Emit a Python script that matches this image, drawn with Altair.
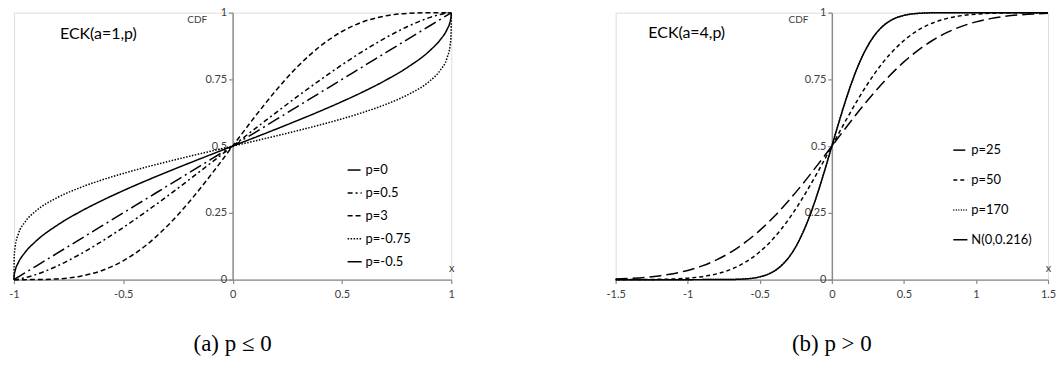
import altair as alt
import pandas as pd

# ---------------- left panel: ECK(a=1,p) ----------------
x_left = [-1, -0.999, -0.995, -0.98, -0.95, -0.9, -0.8, -0.7, -0.6, -0.5, -0.4, -0.3, -0.2, -0.1, 0,
          0.1, 0.2, 0.3, 0.4, 0.5, 0.6, 0.7, 0.8, 0.9, 0.95, 0.98, 0.995, 0.999, 1]
p0 = [0, 0.0005, 0.0025, 0.01, 0.025, 0.05, 0.1, 0.15, 0.2, 0.25, 0.3, 0.35, 0.4, 0.45, 0.5,
      0.55, 0.6, 0.65, 0.7, 0.75, 0.8, 0.85, 0.9, 0.95, 0.975, 0.99, 0.9975, 0.9995, 1]
p05 = [0, 0.0, 0.0002, 0.0017, 0.0067, 0.0187, 0.052, 0.0941, 0.1424, 0.1955, 0.2523, 0.3119, 0.3735, 0.4364, 0.5,
       0.5636, 0.6265, 0.6881, 0.7477, 0.8045, 0.8576, 0.9059, 0.948, 0.9813, 0.9933, 0.9983, 0.9998, 1.0, 1]
p3 = [0, 0, 0, 0, 0.0, 0.0002, 0.0027, 0.0121, 0.0333, 0.0706, 0.126, 0.1998, 0.2898, 0.3917, 0.5,
      0.6083, 0.7102, 0.8002, 0.874, 0.9294, 0.9667, 0.9879, 0.9973, 0.9998, 1.0, 1, 1, 1, 1]
pm075 = [0, 0.0806, 0.1206, 0.1708, 0.2153, 0.257, 0.308, 0.3438, 0.3727, 0.3978, 0.4204, 0.4414, 0.4615, 0.4809, 0.5,
         0.5191, 0.5385, 0.5586, 0.5796, 0.6022, 0.6273, 0.6562, 0.692, 0.743, 0.7847, 0.8292, 0.8794, 0.9194, 1]
pm05 = [0, 0.0142, 0.0319, 0.0638, 0.1011, 0.1436, 0.2048, 0.2532, 0.2952, 0.3333, 0.369, 0.403, 0.4359, 0.4681, 0.5,
        0.5319, 0.5641, 0.597, 0.631, 0.6667, 0.7048, 0.7468, 0.7952, 0.8564, 0.8989, 0.9362, 0.9681, 0.9858, 1]
names_left = ["p=0", "p=0.5", "p=3", "p=-0.75", "p=-0.5"]
series_left = [p0, p05, p3, pm075, pm05]

# ---------------- right panel: ECK(a=4,p) ----------------
x_r = [-1.5, -1.4, -1.3, -1.2, -1.1, -1.0, -0.9, -0.8, -0.7, -0.6, -0.5, -0.4, -0.3, -0.2, -0.1, 0,
       0.1, 0.2, 0.3, 0.4, 0.5, 0.6, 0.7, 0.8, 0.9, 1.0, 1.1, 1.2, 1.3, 1.4, 1.5]
p25 = [0.0027, 0.0049, 0.0084, 0.014, 0.0224, 0.0345, 0.0514, 0.0741, 0.1034, 0.1401, 0.1845, 0.2365, 0.2954, 0.3601, 0.429, 0.5,
       0.571, 0.6399, 0.7046, 0.7635, 0.8155, 0.8599, 0.8966, 0.9259, 0.9486, 0.9655, 0.9776, 0.986, 0.9916, 0.9951, 0.9973]
p50 = [0.0001, 0.0002, 0.0004, 0.0011, 0.0025, 0.0055, 0.0112, 0.0215, 0.0386, 0.0653, 0.1043, 0.1575, 0.2258, 0.308, 0.4011, 0.5,
       0.5989, 0.692, 0.7742, 0.8425, 0.8957, 0.9347, 0.9614, 0.9785, 0.9888, 0.9945, 0.9975, 0.9989, 0.9996, 0.9998, 0.9999]
x_n = [-1.5, -1.0, -0.8, -0.7, -0.6, -0.5, -0.45, -0.4, -0.35, -0.3, -0.25, -0.2, -0.15, -0.1, -0.05, 0,
       0.05, 0.1, 0.15, 0.2, 0.25, 0.3, 0.35, 0.4, 0.45, 0.5, 0.6, 0.7, 0.8, 1.0, 1.5]
p170 = [0.0, 0.0, 0.0001, 0.0006, 0.0027, 0.0104, 0.0187, 0.0321, 0.0527, 0.0825, 0.1237, 0.1773, 0.2438, 0.3218, 0.4085, 0.5,
        0.5915, 0.6782, 0.7562, 0.8227, 0.8763, 0.9175, 0.9473, 0.9679, 0.9813, 0.9896, 0.9973, 0.9994, 0.9999, 1.0, 1.0]
normal = [0.0, 0.0, 0.0001, 0.0006, 0.0027, 0.0103, 0.0186, 0.032, 0.0526, 0.0824, 0.1236, 0.1772, 0.2437, 0.3217, 0.4085, 0.5,
          0.5915, 0.6783, 0.7563, 0.8228, 0.8764, 0.9176, 0.9474, 0.968, 0.9814, 0.9897, 0.9973, 0.9994, 0.9999, 1.0, 1.0]
names_right = ["p=25", "p=50", "p=170", "N(0,0.216)"]

rows = []
for n, ys in zip(names_left, series_left):
    rows += [{"x": a, "y": b, "series": n} for a, b in zip(x_left, ys)]
df_left = pd.DataFrame(rows)
rows = []
for n, xs, ys in [("p=25", x_r, p25), ("p=50", x_r, p50), ("p=170", x_n, p170), ("N(0,0.216)", x_n, normal)]:
    rows += [{"x": a, "y": b, "series": n} for a, b in zip(xs, ys)]
df_right = pd.DataFrame(rows)

FONT = "Lato"
AXIS_COL = "#8a8a8a"
LAB_COL = "#404040"
H = 268


def panel(df, names, dashes, widths, xdom, xvals, W, title_txt, title_pos, caption, legx, legy, rowpad, cdf_x):
    base = alt.Chart(df).mark_line(color="black", interpolate="monotone").encode(
        x=alt.X("x:Q", scale=alt.Scale(domain=xdom, nice=False, zero=False),
                axis=alt.Axis(values=xvals, labelExpr="toString(datum.value)", title="x",
                              titleX=W, titleY=-6, titleAlign="center", titleBaseline="bottom",
                              titleFont=FONT, titleFontSize=11, titleFontWeight="normal", titleColor=LAB_COL,
                              grid=False, domainColor=AXIS_COL, domainWidth=1.5, tickColor=AXIS_COL,
                              tickSize=4, tickWidth=1.2, labelFont=FONT, labelFontSize=11, labelColor=LAB_COL,
                              labelPadding=5, labelFlush=False, labelOverlap=False)),
        y=alt.Y("y:Q", scale=alt.Scale(domain=[0, 1], nice=False),
                axis=alt.Axis(values=[0, 0.25, 0.5, 0.75, 1], labelExpr="toString(datum.value)",
                              offset=-W / 2, title="CDF", titleAngle=0, titleX=cdf_x, titleY=7,
                              titleAlign="right", titleBaseline="middle",
                              titleFont=FONT, titleFontSize=10, titleFontWeight="normal", titleColor=LAB_COL,
                              grid=False, domainColor=AXIS_COL, domainWidth=1.5, tickColor=AXIS_COL,
                              tickSize=4, tickWidth=1.2, labelFont=FONT, labelFontSize=11, labelColor=LAB_COL,
                              labelPadding=2, labelFlush=False, labelOverlap=False)),
        strokeDash=alt.StrokeDash("series:N", scale=alt.Scale(domain=names, range=dashes),
                                  legend=alt.Legend(orient="none", legendX=legx, legendY=legy, title=None,
                                                    symbolType="stroke", symbolSize=200, symbolStrokeWidth=1.5,
                                                    symbolStrokeColor="black", labelFont=FONT, labelFontSize=13,
                                                    labelColor="black", rowPadding=rowpad, labelOffset=3)),
        strokeWidth=alt.StrokeWidth("series:N", scale=alt.Scale(domain=names, range=widths), legend=None),
        detail="series:N",
    )
    ann = alt.Chart(pd.DataFrame({"x": [title_pos[0]], "y": [title_pos[1]], "t": [title_txt]})).mark_text(
        font=FONT, fontSize=16, color="black", align="center", baseline="middle").encode(
        x="x:Q", y="y:Q", text="t:N")
    return alt.layer(base, ann).properties(
        width=W, height=H,
        title=alt.TitleParams(caption, orient="bottom", font="Liberation Serif", fontSize=23,
                              fontWeight="normal", color="black", offset=34, anchor="middle"))


left = panel(df_left, names_left, [[13, 4, 2, 4], [5, 3, 2, 3], [5, 3], [1.5, 1.5], [1, 0]],
             [1.5, 1.5, 1.5, 1.2, 1.5], [-1, 1], [-1, -0.5, 0, 0.5, 1], 439,
             "ECK(a=1,p)", (-0.614, 0.92), "(a) p ≤ 0", 334, 150, 8, -26)
right = panel(df_right, names_right, [[12, 5], [4, 3], [1, 1.5], [1, 0]],
              [1.5, 1.5, 1.2, 1.7], [-1.5, 1.5], [-1.5, -1, -0.5, 0, 0.5, 1, 1.5], 434,
              "ECK(a=4,p)", (-1.007, 0.925), "(b) p > 0", 338, 130, 15, -24)

chart = alt.hconcat(left, right, spacing=150).resolve_scale(
    x="independent", y="independent", strokeDash="independent", strokeWidth="independent"
).resolve_legend(strokeDash="independent", strokeWidth="independent").properties(
    padding={"left": 8, "top": 5, "right": 0, "bottom": 5}
).configure_view(strokeWidth=0).configure(background="white")

chart.save("out.html", embed_options={"renderer": "svg", "actions": False})
